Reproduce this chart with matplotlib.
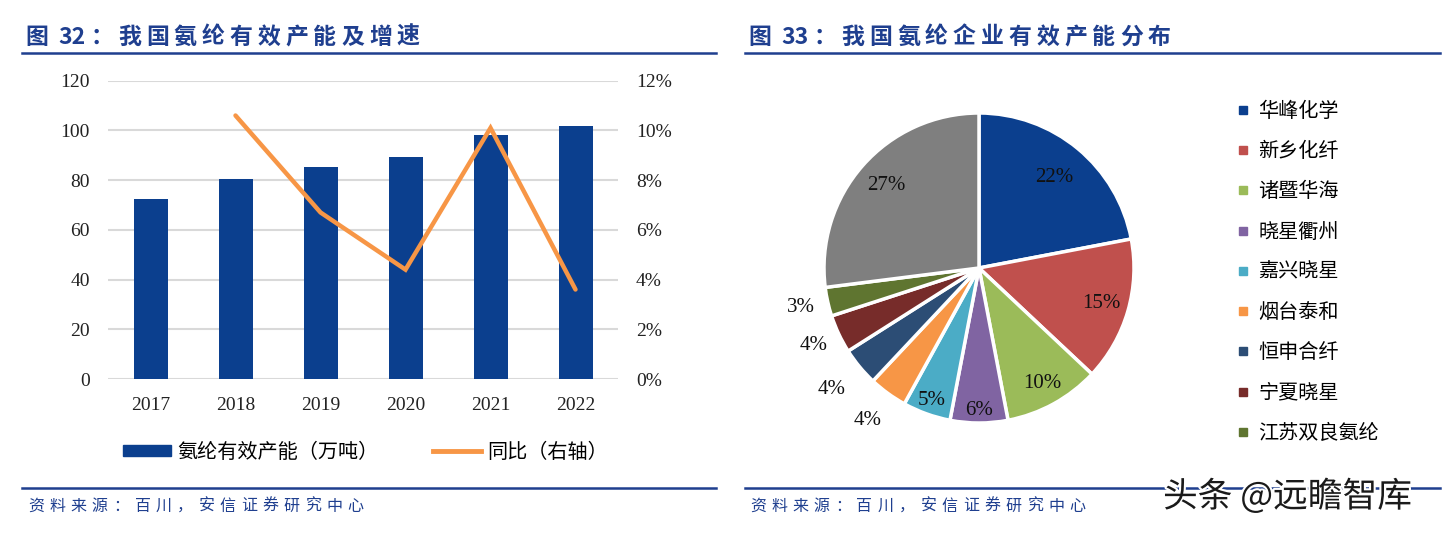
import re
import numpy as np
import matplotlib.pyplot as plt
from matplotlib.lines import Line2D
from matplotlib.patches import Patch
import matplotlib.patheffects as pe

plt.rcParams['font.family'] = ['Liberation Serif', 'Noto Sans CJK SC', 'DejaVu Sans']
plt.rcParams['axes.unicode_minus'] = False

# left chart data
years = ['2017', '2018', '2019', '2020', '2021', '2022']
capacity = [72.5, 80.3, 85.4, 89.2, 98.2, 101.8]          # 万吨
yoy = [np.nan, 10.6, 6.7, 4.4, 10.1, 3.6]                  # %

# right chart data
companies = ['华峰化学', '新乡化纤', '诸暨华海', '晓星衢州', '嘉兴晓星',
             '烟台泰和', '恒申合纤', '宁夏晓星', '江苏双良氨纶', '其他']
shares = [22, 15, 10, 6, 5, 4, 4, 4, 3, 27]
pie_colors = ['#0B3F8E', '#C0504D', '#9BBB59', '#8064A2', '#4BACC6',
              '#F79646', '#2C4D75', '#772C2A', '#5F7530', '#7F7F7F']
label_r = [0.76, 0.82, 0.85, 0.92, 0.91, 1.22, 1.23, 1.18, 1.18, 0.8]

navy = '#1F3F8F'
cjk = ['Noto Sans CJK SC', 'DejaVu Sans']

W, H = 1447, 536
fig = plt.figure(figsize=(W / 100, H / 100), dpi=100)
renderer = fig.canvas.get_renderer()


def fx(px):
    return px / W


def fy(py):
    return 1 - py / H


def spaced_text(x, y, s, gap, **kw):
    # draw a string with extra letter spacing (x, y, gap in pixels)
    for tok in re.findall(r'[A-Za-z0-9]+|.', s):
        t = fig.text(fx(x), fy(y), tok, va='center', ha='left', **kw)
        x += t.get_window_extent(renderer).width + (gap if tok != ' ' else 0)


# titles and rules
spaced_text(25, 37, '图 32：我国氨纶有效产能及增速', 5, family=cjk, fontsize=16.5,
            fontweight='bold', color=navy)
spaced_text(748, 37, '图 33：我国氨纶企业有效产能分布', 5, family=cjk, fontsize=16.5,
            fontweight='bold', color=navy)
for x0, x1 in [(22, 716), (745, 1440)]:
    fig.add_artist(Line2D([fx(x0), fx(x1)], [fy(53), fy(53)], color=navy, lw=1.8))
    fig.add_artist(Line2D([fx(x0), fx(x1)], [fy(488), fy(488)], color=navy, lw=1.8))
spaced_text(28, 506, '资料来源：百川，安信证券研究中心', 5.3, family=cjk,
            fontsize=11.5, color=navy)
spaced_text(750, 506, '资料来源：百川，安信证券研究中心', 5.3, family=cjk,
            fontsize=11.5, color=navy)
fig.text(fx(1163), fy(497), '头条 @远瞻智库', family=cjk, fontsize=25,
         color='#1A1A1A', va='center', ha='left',
         path_effects=[pe.withStroke(linewidth=3, foreground='white')])

# left: bars + line
ax = fig.add_axes([fx(108), fy(379), fx(618) - fx(108), fy(80.7) - fy(379)])
x = np.arange(len(years))
ax.bar(x, capacity, width=0.4, color='#0B3F8E', zorder=2)
ax.set_ylim(0, 120)
ax.set_xlim(-0.5, len(years) - 0.5)
ax.set_yticks(range(0, 121, 20))
ax.set_xticks(x, years)
ax.grid(axis='y', color='#D9D9D9', lw=1.5, zorder=0)
for s in ax.spines.values():
    s.set_visible(False)
ax.tick_params(axis='both', length=0, labelsize=14, colors='#222222')
ax.tick_params(axis='x', pad=13)
ax.tick_params(axis='y', pad=13)

ax2 = ax.twinx()
ax2.plot(x, yoy, color='#F79646', lw=3.2, solid_capstyle='round',
         solid_joinstyle='miter', zorder=3)
ax2.set_ylim(0, 12)
ax2.set_yticks(range(0, 13, 2))
ax2.set_yticklabels([f'{v}%' for v in range(0, 13, 2)])
for s in ax2.spines.values():
    s.set_visible(False)
ax2.tick_params(axis='y', length=0, labelsize=14, colors='#222222', pad=13)

handles = [Patch(color='#0B3F8E'), Line2D([], [], color='#F79646', lw=3.5)]
fig.legend(handles, ['氨纶有效产能（万吨）', '同比（右轴）'], loc='center left',
           bbox_to_anchor=(fx(123), fy(452)), ncol=2, frameon=False,
           borderaxespad=0, borderpad=0,
           prop={'family': cjk, 'size': 14.5}, handlelength=2.4, handleheight=0.45,
           handletextpad=0.3, columnspacing=2.7)

# right: pie
R = 155
cx, cy = 979, 268
side = 2.8 * R
pax = fig.add_axes([fx(cx - side / 2), fy(cy + side / 2), side / W, side / H])
wedges, _ = pax.pie(shares, colors=pie_colors, startangle=90, counterclock=False,
                    wedgeprops={'edgecolor': 'white', 'linewidth': 2.5})
pax.set_xlim(-1.4, 1.4)
pax.set_ylim(-1.4, 1.4)
pax.set_aspect('equal')
pax.axis('off')
for w, v, r in zip(wedges, shares, label_r):
    ang = np.deg2rad((w.theta1 + w.theta2) / 2)
    pax.text(r * np.cos(ang), r * np.sin(ang), f'{v}%', ha='center', va='center',
             fontsize=15, color='#111111')

leg_handles = [Line2D([], [], marker='s', ls='', color=c, markersize=6)
               for c in pie_colors[:9]]
fig.legend(leg_handles, companies[:9], loc='upper left',
           bbox_to_anchor=(fx(1235), fy(101)), frameon=False,
           borderaxespad=0, borderpad=0,
           prop={'family': cjk, 'size': 14.5}, handlelength=0.8,
           handletextpad=0.35, labelspacing=0.955)

fig.savefig('out.png', dpi=100)
